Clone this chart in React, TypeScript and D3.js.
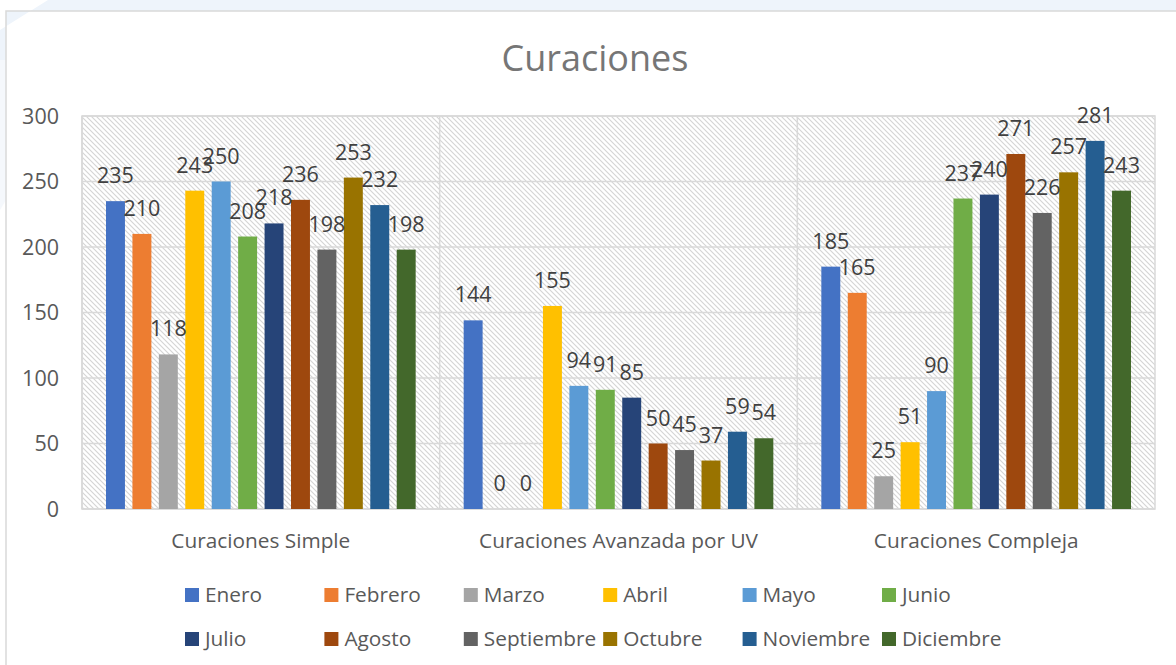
import React from "react";
import * as d3 from "d3";

const categories = ["Curaciones Simple", "Curaciones Avanzada por UV", "Curaciones Compleja"];
const months = ["Enero", "Febrero", "Marzo", "Abril", "Mayo", "Junio", "Julio", "Agosto", "Septiembre", "Octubre", "Noviembre", "Diciembre"];
const colors = ["#4472C4", "#ED7D31", "#A5A5A5", "#FFC000", "#5B9BD5", "#70AD47", "#264478", "#9E480E", "#636363", "#997300", "#255E91", "#43682B"];
const simple = [235, 210, 118, 243, 250, 208, 218, 236, 198, 253, 232, 198];
const avanzada = [144, 0, 0, 155, 94, 91, 85, 50, 45, 37, 59, 54];
const compleja = [185, 165, 25, 51, 90, 237, 240, 271, 226, 257, 281, 243];
const yTicks = [0, 50, 100, 150, 200, 250, 300];

const series = [simple, avanzada, compleja];

const W = 1176;
const H = 665;
const plot = { left: 82, right: 1155, top: 116, bottom: 509 };
const font = "'Open Sans', 'Noto Sans', sans-serif";

export default function App() {
    const x0 = d3.scaleBand().domain(categories).range([plot.left, plot.right]).padding(0);
    const x1 = d3.scaleBand().domain(months).range([24, x0.bandwidth() - 24]).paddingInner(0.283).paddingOuter(0);
    const y = d3.scaleLinear().domain([0, 300]).range([plot.bottom, plot.top]);

    const legendX = d3.scalePoint().domain(d3.range(6).map(String)).range([185, 882]);
    const legendY = [595, 639];

    return (
        <svg width={W} height={H} style={{ position: "absolute", left: 0, top: 0, fontFamily: font }}>
            <defs>
                <pattern id="hatch" width="5" height="5" patternUnits="userSpaceOnUse">
                    <rect width="5" height="5" fill="#ffffff" />
                    <path d="M-1,-1 L6,6 M-1,4 L1,6 M4,-1 L6,1" stroke="#d4d4d4" strokeWidth="1.1" />
                </pattern>
            </defs>
            <rect width={W} height={H} fill="#ffffff" />
            {/* light page background peeking around the chart */}
            <path d="M48,0 L1176,0 L1176,11 L6,11 L6,60 L0,60 L0,30 Z" fill="#EEF4FB" />
            <path d="M0,60 L6,60 L6,200 L0,210 Z" fill="#F5F8FC" />
            <path d="M6,665 L6,11 L1176,11" fill="none" stroke="#D9D9D9" strokeWidth="1.5" />

            <text x={595} y={71} textAnchor="middle" fontSize={36} fill="#767676">Curaciones</text>

            <rect x={plot.left} y={plot.top} width={plot.right - plot.left} height={plot.bottom - plot.top} fill="url(#hatch)" />
            {yTicks.map(t => (
                <line key={t} x1={plot.left} x2={plot.right} y1={y(t)} y2={y(t)} stroke="#D9D9D9" strokeWidth={1.5} />
            ))}
            {categories.map(c => (
                <line key={c} x1={x0(c)!} x2={x0(c)!} y1={plot.top} y2={plot.bottom} stroke="#D9D9D9" strokeWidth={1.5} />
            ))}
            <rect x={plot.left} y={plot.top} width={plot.right - plot.left} height={plot.bottom - plot.top} fill="none" stroke="#D9D9D9" strokeWidth={1.5} />

            {yTicks.map(t => (
                <text key={t} x={59} y={y(t)} dy="0.36em" textAnchor="end" fontSize={21.5} fill="#595959">{t}</text>
            ))}

            {categories.map((c, ci) => (
                <g key={c} transform={`translate(${x0(c)},0)`}>
                    {series[ci].map((v, i) => (
                        <rect key={i} x={x1(months[i])!} y={y(v)} width={x1.bandwidth()} height={plot.bottom - y(v)} fill={colors[i]} />
                    ))}
                    {series[ci].map((v, i) => (
                        <text key={"l" + i} x={x1(months[i])! + x1.bandwidth() / 2} y={y(v) - 18} textAnchor="middle" fontSize={21.5} fill="#404040">{v}</text>
                    ))}
                    <text x={x0.bandwidth() / 2} y={548} textAnchor="middle" fontSize={20.8} fill="#595959">{c}</text>
                </g>
            ))}

            {months.map((m, i) => {
                const lx = legendX(String(i % 6))!;
                const ly = legendY[Math.floor(i / 6)];
                return (
                    <g key={m}>
                        <rect x={lx} y={ly - 7} width={14} height={14} fill={colors[i]} />
                        <text x={lx + 20} y={ly} dy="0.36em" fontSize={20.8} fill="#595959">{m}</text>
                    </g>
                );
            })}
        </svg>
    );
}
